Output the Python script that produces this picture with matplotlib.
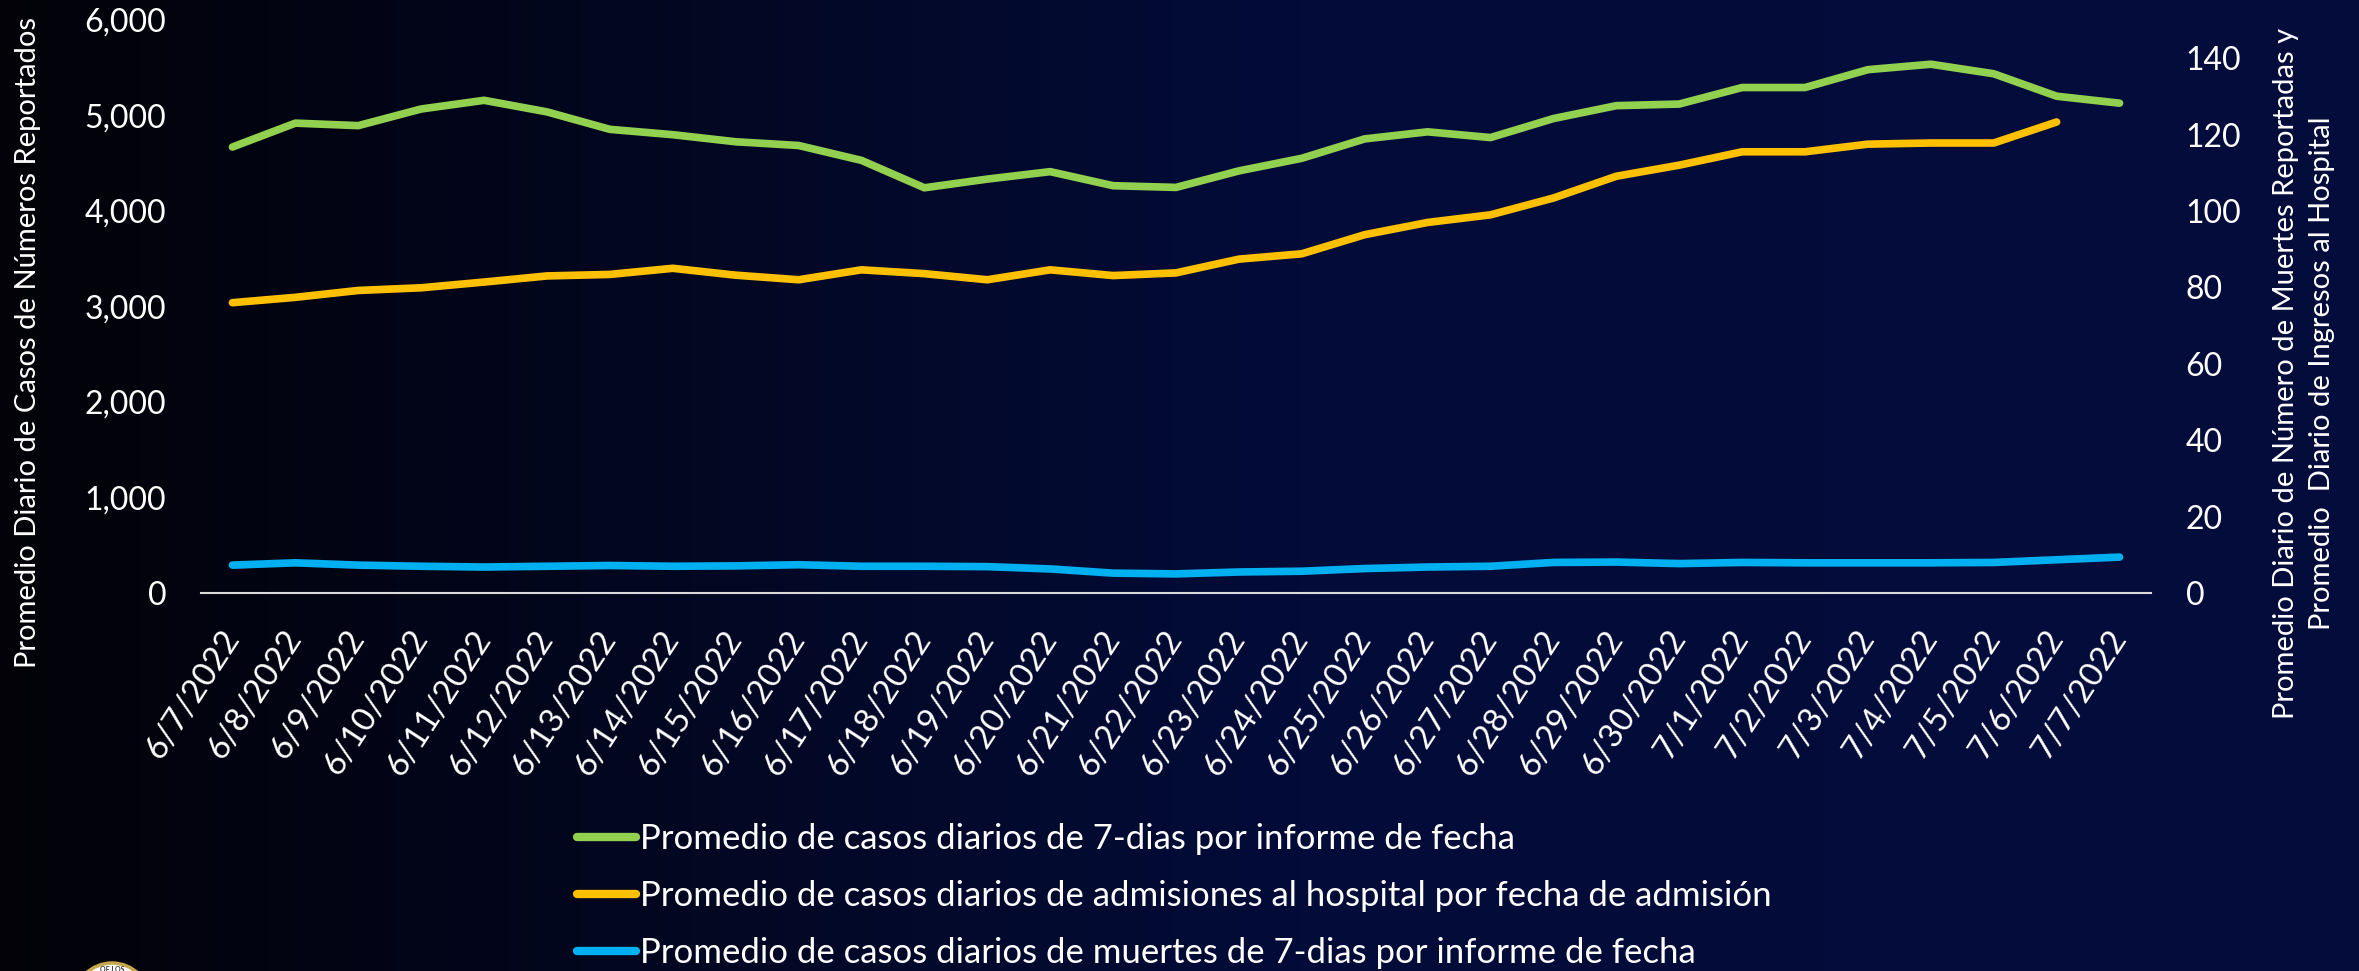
import numpy as np
import matplotlib
matplotlib.use("Agg")
import matplotlib.pyplot as plt
from matplotlib.colors import LinearSegmentedColormap
from matplotlib.patches import Circle
from matplotlib.lines import Line2D

plt.rcParams['font.family'] = ['Lato', 'DejaVu Sans']

# ---------- Data ----------
dates = ["6/7/2022", "6/8/2022", "6/9/2022", "6/10/2022", "6/11/2022", "6/12/2022",
         "6/13/2022", "6/14/2022", "6/15/2022", "6/16/2022", "6/17/2022", "6/18/2022",
         "6/19/2022", "6/20/2022", "6/21/2022", "6/22/2022", "6/23/2022", "6/24/2022",
         "6/25/2022", "6/26/2022", "6/27/2022", "6/28/2022", "6/29/2022", "6/30/2022",
         "7/1/2022", "7/2/2022", "7/3/2022", "7/4/2022", "7/5/2022", "7/6/2022", "7/7/2022"]

# 7-day average of daily cases (left axis)
cases = [4670, 4920, 4894, 5068, 5159, 5038, 4855, 4799, 4725, 4686, 4530, 4243,
         4334, 4412, 4265, 4247, 4420, 4552, 4755, 4829, 4769, 4968, 5103, 5120,
         5293, 5293, 5480, 5537, 5437, 5202, 5129]

# hospital admissions by admission date (right axis), no value yet for 7/7
admissions = [76.0, 77.4, 79.2, 79.9, 81.4, 83.0, 83.4, 85.0, 83.2, 82.0, 84.6, 83.6,
              82.0, 84.6, 83.1, 83.8, 87.4, 88.8, 93.8, 97.0, 99.0, 103.4, 109.1, 112.0,
              115.5, 115.5, 117.5, 117.8, 117.8, 123.3, np.nan]

# 7-day average of daily deaths (right axis)
deaths = [7.3, 7.9, 7.3, 7.0, 6.8, 7.0, 7.2, 7.0, 7.1, 7.4, 7.0, 7.0,
          6.9, 6.3, 5.2, 5.0, 5.5, 5.7, 6.4, 6.8, 7.0, 8.0, 8.1, 7.7,
          8.0, 7.9, 7.9, 7.9, 8.0, 8.7, 9.4]

labels = ["Promedio de casos diarios de 7-dias por informe de fecha",
          "Promedio de casos diarios de admisiones al hospital por fecha de admisión",
          "Promedio de casos diarios de muertes de 7-dias por informe de fecha"]

green = "#92d050"
yellow = "#ffc000"
blue = "#00b0f0"
W, H = 2359, 971

# ---------- Figure + background ----------
fig = plt.figure(figsize=(W / 100, H / 100), dpi=100)
bg = fig.add_axes([0, 0, 1, 1], zorder=-1)
cmap = LinearSegmentedColormap.from_list("bg", [(0, "#020208"), (0.55, "#030c39"), (1, "#030c3b")])
grad = np.linspace(0, 1, 512).reshape(1, -1)
bg.imshow(grad, cmap=cmap, aspect="auto", extent=[0, W, H, 0])
bg.set_xlim(0, W)
bg.set_ylim(H, 0)
bg.axis("off")

# seal logo peeking in at the bottom left
bg.add_patch(Circle((112, 1001), 38, facecolor="white", edgecolor="#c8a64b", linewidth=2.5))
bg.text(112, 969, "OF LOS", fontsize=5, color="#333333", ha="center", va="center", fontweight="bold")

# ---------- Plot ----------
ax = fig.add_axes([201 / W, 1 - 593 / H, 1950 / W, 573 / H])
ax.set_facecolor("none")
ax2 = ax.twinx()
ax2.set_facecolor("none")

x = np.arange(len(dates))
ax.plot(x, cases, color=green, lw=5.5, solid_capstyle="round", solid_joinstyle="round")
ax2.plot(x, admissions, color=yellow, lw=5.5, solid_capstyle="round", solid_joinstyle="round")
ax2.plot(x, deaths, color=blue, lw=5.5, solid_capstyle="round", solid_joinstyle="round")

ax.set_xlim(-0.5, len(dates) - 0.5)
ax.set_ylim(0, 6000)
ax2.set_ylim(0, 150)
ax.set_yticks(np.arange(0, 6001, 1000))
ax.set_yticklabels([f"{v:,}" for v in range(0, 6001, 1000)])
ax2.set_yticks(np.arange(0, 141, 20))

ax.set_xticks(x)
ax.set_xticklabels(dates, rotation=57, ha="right", va="center", rotation_mode="anchor")

for a in (ax, ax2):
    for s in a.spines.values():
        s.set_visible(False)
    a.tick_params(length=0, colors="white", labelsize=23)
ax.spines["bottom"].set_visible(True)
ax.spines["bottom"].set_color("#d9d9d9")
ax.spines["bottom"].set_linewidth(1.5)
ax.tick_params(axis="y", pad=25)
ax2.tick_params(axis="y", pad=25)
ax.tick_params(axis="x", pad=29, labelsize=24)

# axis titles
fig.text(28 / W, 1 - 342 / H, "Promedio Diario de Casos de Números Reportados",
         rotation=90, ha="center", va="center", color="white", fontsize=21)
fig.text(2304 / W, 1 - 373 / H,
         "Promedio Diario de Número de Muertes Reportadas y\nPromedio  Diario de Ingresos al Hospital",
         rotation=90, ha="center", va="center", color="white", fontsize=21,
         multialignment="center", linespacing=1.5)

# legend
handles = [Line2D([], [], color=c, lw=6, solid_capstyle="round") for c in (green, yellow, blue)]
fig.legend(handles, labels, loc="upper left", bbox_to_anchor=(577 / W, 1 - 823 / H),
           frameon=False, fontsize=25, labelcolor="white", handlelength=1.7,
           handletextpad=0.1, labelspacing=0.72, borderpad=0, borderaxespad=0)

fig.savefig("out.png", dpi=100)
